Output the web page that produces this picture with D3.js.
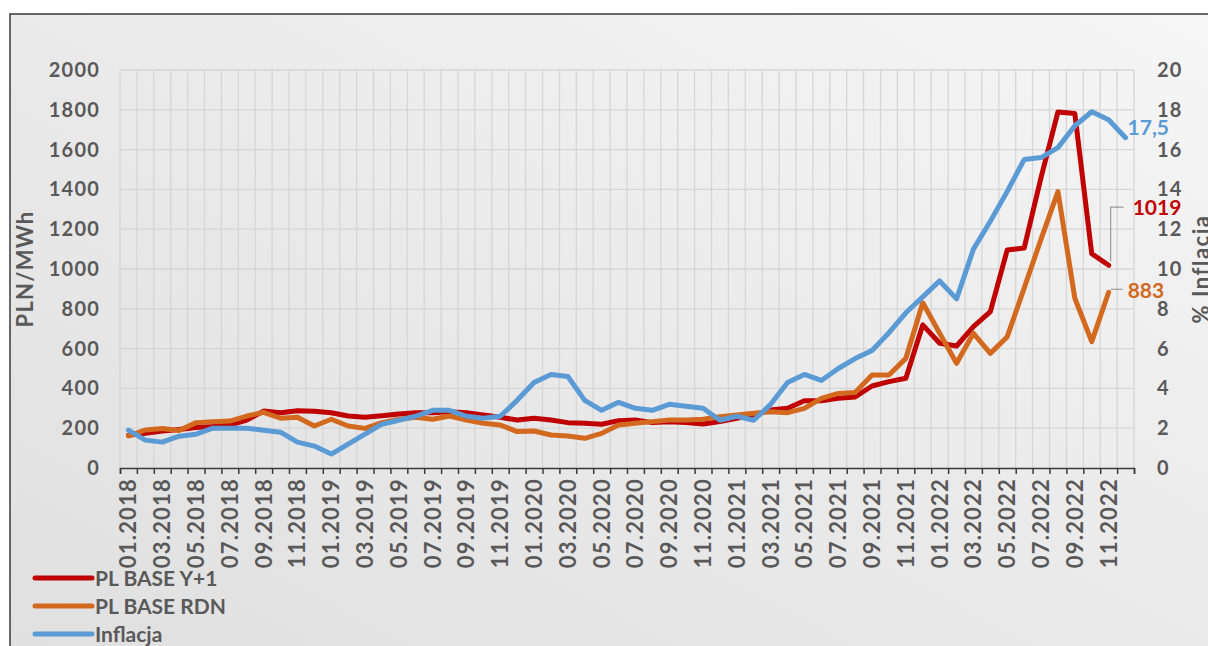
<!DOCTYPE html>
<html>
<head>
<meta charset="utf-8">
<script src="https://cdn.jsdelivr.net/npm/d3@7"></script>
<style>
    html, body { margin: 0; padding: 0; background: #fff; }
    svg { display: block; font-family: Lato, "Open Sans", sans-serif; }
</style>
</head>
<body>
<div id="chart"></div>
<script>
// Months (categories)
const months = [
    '01.2018','02.2018','03.2018','04.2018','05.2018','06.2018','07.2018','08.2018','09.2018','10.2018','11.2018','12.2018',
    '01.2019','02.2019','03.2019','04.2019','05.2019','06.2019','07.2019','08.2019','09.2019','10.2019','11.2019','12.2019',
    '01.2020','02.2020','03.2020','04.2020','05.2020','06.2020','07.2020','08.2020','09.2020','10.2020','11.2020','12.2020',
    '01.2021','02.2021','03.2021','04.2021','05.2021','06.2021','07.2021','08.2021','09.2021','10.2021','11.2021','12.2021',
    '01.2022','02.2022','03.2022','04.2022','05.2022','06.2022','07.2022','08.2022','09.2022','10.2022','11.2022','12.2022'
];

// PLN/MWh, left axis
const plBaseY1 = [
    165,174,186,194,203,208,216,241,286,278,288,285,
    278,261,255,263,271,278,278,283,278,266,255,241,
    250,241,228,225,220,238,241,228,233,228,221,233,
    250,266,291,300,338,338,350,357,412,434,451,719,
    627,613,710,786,1096,1105,1460,1789,1781,1077,1019,null
];
const plBaseRDN = [
    161,191,199,188,228,233,236,261,280,250,255,211,
    245,211,199,228,245,255,245,261,241,225,216,183,
    186,166,161,149,174,216,225,233,241,241,245,258,
    266,275,283,278,300,350,375,380,467,467,551,830,
    677,526,677,576,660,904,1150,1389,853,635,883,null
];
// % inflation, right axis
const inflacja = [
    1.9,1.4,1.3,1.6,1.7,2.0,2.0,2.0,1.9,1.8,1.3,1.1,
    0.7,1.2,1.7,2.2,2.4,2.6,2.9,2.9,2.6,2.5,2.6,3.4,
    4.3,4.7,4.6,3.4,2.9,3.3,3.0,2.9,3.2,3.1,3.0,2.4,
    2.6,2.4,3.2,4.3,4.7,4.4,5.0,5.5,5.9,6.8,7.8,8.6,
    9.4,8.5,11.0,12.4,13.9,15.5,15.6,16.1,17.2,17.9,17.5,16.6
];

const leftTicks = [0,200,400,600,800,1000,1200,1400,1600,1800,2000];
const rightTicks = [0,2,4,6,8,10,12,14,16,18,20];

const COLORS = { y1: '#c00000', rdn: '#d2691e', inf: '#5b9bd5', text: '#595959' };

const width = 1208, height = 646;
const plot = { left: 120, right: 1134, top: 70, bottom: 468 };

const svg = d3.select('#chart')
    .append('svg')
    .attr('width', width)
    .attr('height', height);

// background
const defs = svg.append('defs');
const bg = defs.append('linearGradient')
    .attr('id', 'bg')
    .attr('x1', '0%').attr('y1', '100%')
    .attr('x2', '100%').attr('y2', '0%');
bg.append('stop').attr('offset', '0%').attr('stop-color', '#e0e0e0');
bg.append('stop').attr('offset', '55%').attr('stop-color', '#ebebeb');
bg.append('stop').attr('offset', '100%').attr('stop-color', '#f6f6f6');

svg.append('rect')
    .attr('x', 10).attr('y', 14)
    .attr('width', width - 10).attr('height', height - 14)
    .attr('fill', 'url(#bg)');

// frame
svg.append('path')
    .attr('d', `M10,${height} L10,14 L${width},14`)
    .attr('fill', 'none')
    .attr('stroke', '#3a3a3a')
    .attr('stroke-width', 1.5);

// scales
const x = d3.scaleBand().domain(months).range([plot.left, plot.right]);
const xEdge = d3.scaleLinear().domain([0, months.length]).range([plot.left, plot.right]);
const yL = d3.scaleLinear().domain([0, 2000]).range([plot.bottom, plot.top]);
const yR = d3.scaleLinear().domain([0, 20]).range([plot.bottom, plot.top]);
const cx = i => x(months[i]) + x.bandwidth() / 2;

// grid
const grid = svg.append('g').attr('class', 'grid');
grid.selectAll('line.v')
    .data(d3.range(months.length + 1))
    .enter().append('line')
    .attr('class', 'v')
    .attr('x1', d => xEdge(d)).attr('x2', d => xEdge(d))
    .attr('y1', plot.top).attr('y2', plot.bottom)
    .attr('stroke', '#d6d6d6').attr('stroke-width', 1.3);
grid.selectAll('line.h')
    .data(leftTicks.filter(d => d > 0))
    .enter().append('line')
    .attr('class', 'h')
    .attr('x1', plot.left).attr('x2', plot.right)
    .attr('y1', d => yL(d)).attr('y2', d => yL(d))
    .attr('stroke', '#d6d6d6').attr('stroke-width', 1.3);

// x axis with ticks between categories
const xAxis = svg.append('g')
    .attr('transform', `translate(0,${plot.bottom})`)
    .call(d3.axisBottom(xEdge)
        .tickValues(d3.range(months.length + 1))
        .tickSize(6)
        .tickSizeOuter(6)
        .tickFormat(''));
xAxis.selectAll('path, line').attr('stroke', '#3a3a3a').attr('stroke-width', 1.5);

svg.append('g')
    .selectAll('text')
    .data(months.filter((m, i) => i % 2 === 0))
    .enter().append('text')
    .attr('transform', d => `translate(${x(d) + x.bandwidth() / 2},${plot.bottom + 10}) rotate(-90)`)
    .attr('dy', '0.36em')
    .attr('text-anchor', 'end')
    .attr('fill', COLORS.text)
    .style('font-size', '22px')
    .style('font-weight', 'bold')
    .style('letter-spacing', '1.2px')
    .text(d => d);

// y axes
const leftAxis = svg.append('g')
    .attr('transform', `translate(${plot.left},0)`)
    .call(d3.axisLeft(yL).tickValues(leftTicks).tickFormat(d3.format('d')).tickSize(0).tickPadding(20));
const rightAxis = svg.append('g')
    .attr('transform', `translate(${plot.right},0)`)
    .call(d3.axisRight(yR).tickValues(rightTicks).tickFormat(d3.format('d')).tickSize(0).tickPadding(23));
[leftAxis, rightAxis].forEach(a => {
    a.select('.domain').remove();
    a.selectAll('text')
        .attr('fill', COLORS.text)
        .style('font-family', 'Lato, "Open Sans", sans-serif')
        .style('font-size', '20px')
        .style('font-weight', 'bold')
        .style('letter-spacing', '1.2px');
});

// axis titles
svg.append('text')
    .attr('transform', `translate(33,${(plot.top + plot.bottom) / 2}) rotate(-90)`)
    .attr('text-anchor', 'middle')
    .attr('fill', COLORS.text)
    .style('font-size', '22px')
    .style('font-weight', 'bold')
    .style('letter-spacing', '1.2px')
    .text('PLN/MWh');

svg.append('text')
    .attr('transform', `translate(1209,${(plot.top + plot.bottom) / 2}) rotate(-90)`)
    .attr('text-anchor', 'middle')
    .attr('fill', COLORS.text)
    .style('font-size', '22px')
    .style('font-weight', 'bold')
    .style('letter-spacing', '1.5px')
    .text('% Inflacja');

// lines
const series = [
    { name: 'PL BASE Y+1', values: plBaseY1, y: yL, color: COLORS.y1 },
    { name: 'PL BASE RDN', values: plBaseRDN, y: yL, color: COLORS.rdn },
    { name: 'Inflacja', values: inflacja, y: yR, color: COLORS.inf }
];

series.forEach(s => {
    const line = d3.line()
        .defined(d => d != null)
        .x((d, i) => cx(i))
        .y(d => s.y(d));
    svg.append('path')
        .datum(s.values)
        .attr('d', line)
        .attr('fill', 'none')
        .attr('stroke', s.color)
        .attr('stroke-width', 5)
        .attr('stroke-linejoin', 'round')
        .attr('stroke-linecap', 'round');
});

// data labels (November 2022 values)
const nov = months.indexOf('11.2022');
const last = months.length - 1;

svg.append('text')
    .attr('x', cx(last) + 2)
    .attr('y', yR(inflacja[last]) - 10)
    .attr('dy', '0.36em')
    .attr('fill', COLORS.inf)
    .style('font-size', '21px')
    .style('font-weight', 'bold')
    .text(String(inflacja[nov]).replace('.', ','));

const yRed = yL(plBaseY1[nov]);
const yOr = yL(plBaseRDN[nov]);
const labRedY = yRed - 58;

svg.append('path')
    .attr('d', `M${cx(nov) + 2},${yRed - 4} L${cx(nov) + 2},${labRedY} L${cx(nov) + 15},${labRedY}`)
    .attr('fill', 'none')
    .attr('stroke', '#9a9a9a')
    .attr('stroke-width', 1.2);
svg.append('text')
    .attr('x', cx(nov) + 24)
    .attr('y', labRedY)
    .attr('dy', '0.36em')
    .attr('fill', COLORS.y1)
    .style('font-size', '21px')
    .style('font-weight', 'bold')
    .text(plBaseY1[nov]);

svg.append('path')
    .attr('d', `M${cx(nov) + 2},${yOr - 3} L${cx(nov) + 14},${yOr - 3}`)
    .attr('fill', 'none')
    .attr('stroke', '#9a9a9a')
    .attr('stroke-width', 1.2);
svg.append('text')
    .attr('x', cx(nov) + 19)
    .attr('y', yOr - 2)
    .attr('dy', '0.36em')
    .attr('fill', COLORS.rdn)
    .style('font-size', '21px')
    .style('font-weight', 'bold')
    .text(plBaseRDN[nov]);

// legend
const legend = svg.append('g').attr('class', 'legend');
series.forEach((s, i) => {
    const ly = 578 + i * 28;
    legend.append('line')
        .attr('x1', 35).attr('x2', 92)
        .attr('y1', ly).attr('y2', ly)
        .attr('stroke', s.color)
        .attr('stroke-width', 5)
        .attr('stroke-linecap', 'round');
    legend.append('text')
        .attr('x', 95)
        .attr('y', ly)
        .attr('dy', '0.36em')
        .attr('fill', COLORS.text)
        .style('font-size', '21px')
        .style('font-weight', 'bold')
        .text(s.name);
});
</script>
</body>
</html>
